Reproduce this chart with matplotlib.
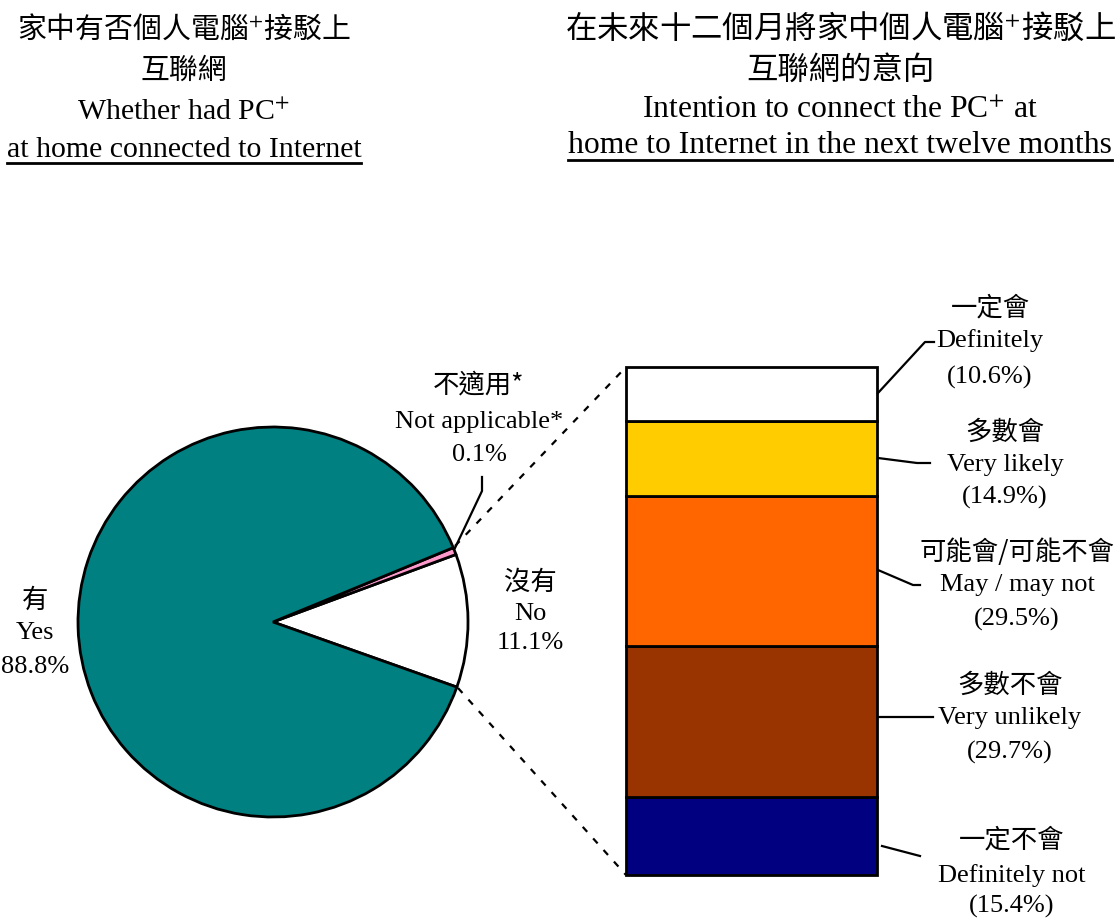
import matplotlib
matplotlib.use("Agg")
import matplotlib.pyplot as plt

plt.rcParams['mathtext.fontset'] = 'stix'

W, H = 1118, 921
CJK = ['Noto Sans CJK TC', 'DejaVu Sans']
SERIF = ['Liberation Serif', 'DejaVu Serif']

# ---- data ----
pie_names_zh = ["有", "不適用*", "沒有"]
pie_names_en = ["Yes", "Not applicable*", "No"]
pie_shares = [88.8, 0.1, 11.1]            # printed values
pie_drawn = [88.8, 0.6, 11.1]             # slice sizes as drawn in the picture
pie_colors = ["#008080", "#FF99CC", "#FFFFFF"]

bar_names_zh = ["一定會", "多數會", "可能會/可能不會", "多數不會", "一定不會"]
bar_names_en = ["Definitely", "Very likely", "May / may not", "Very unlikely", "Definitely not"]
bar_shares = [10.6, 14.9, 29.5, 29.7, 15.4]
bar_colors = ["#FFFFFF", "#FFCC00", "#FF6600", "#993300", "#000080"]


def Y(py):
    return H - py


fig = plt.figure(figsize=(W / 100, H / 100), dpi=100)
ax = fig.add_axes([0, 0, 1, 1])

# ---- pie ----
cx, cy, r = 273, Y(622), 195
ax.pie(pie_drawn[::-1], colors=pie_colors[::-1], startangle=-19.5, counterclock=True,
       center=(cx, cy), radius=r, frame=True,
       wedgeprops=dict(edgecolor="black", linewidth=2))

# ---- stacked bar (top to bottom: Definitely ... Definitely not) ----
bar_left, bar_right = 626, 877
bar_top, bar_bottom = Y(367), Y(875)
scale = (bar_top - bar_bottom) / sum(bar_shares)
bottom = bar_bottom
for val, col in zip(bar_shares[::-1], bar_colors[::-1]):
    ax.bar((bar_left + bar_right) / 2, val * scale, bottom=bottom,
           width=bar_right - bar_left, color=col, edgecolor="black", linewidth=2)
    bottom += val * scale

# dashed connectors
ax.plot([455, bar_left], [Y(546), Y(367)], color="black", lw=1.6, ls=(0, (3, 4)))
ax.plot([458, bar_left], [Y(688), Y(875)], color="black", lw=1.6, ls=(0, (3, 4)))

ax.set_xlim(0, W)
ax.set_ylim(0, H)
ax.set_aspect("equal")
ax.axis("off")


def label3(x, ys, zh, en, pct, zsize=19, esize=19):
    ax.text(x, Y(ys[0]), zh, family=CJK, fontsize=zsize, ha="center", va="center")
    ax.text(x, Y(ys[1]), en, family=SERIF, fontsize=esize, ha="center", va="center")
    ax.text(x, Y(ys[2]), pct, family=SERIF, fontsize=esize, ha="center", va="center")


# pie labels
label3(35, (600, 633, 667), pie_names_zh[0], pie_names_en[0], f"{pie_shares[0]}%")
label3(479, (385, 422, 455), pie_names_zh[1], pie_names_en[1], f"{pie_shares[1]}%")
label3(530, (582, 614, 643), pie_names_zh[2], pie_names_en[2], f"{pie_shares[2]}%")
ax.plot([482, 482, 455], [Y(477), Y(491), Y(548)], color="black", lw=1.6)

# bar labels
bar_label_pos = [(990, (308, 341, 377)), (1005, (432, 465, 497)),
                 (1017, (552, 585, 619)), (1010, (685, 718, 752)),
                 (1012, (840, 876, 906))]
for (x, ys), zh, en, v in zip(bar_label_pos, bar_names_zh, bar_names_en, bar_shares):
    label3(x, ys, zh, en, f"({v}%)")

leaders = [([878, 925, 934], [393, 342, 342]),
           ([878, 917, 930], [458, 463, 463]),
           ([878, 913, 920], [570, 585, 585]),
           ([878, 933], [717, 717]),
           ([882, 920], [846, 856])]
for xs, ys in leaders:
    ax.plot(xs, [Y(v) for v in ys], color="black", lw=1.6)

# ---- titles ----
ax.text(184, Y(30), "家中有否個人電腦$^{+}$接駁上", family=CJK, fontsize=20.8, ha="center", va="center")
ax.text(184, Y(71), "互聯網", family=CJK, fontsize=20.8, ha="center", va="center")
ax.text(184, Y(120), "Whether had PC$^{+}$", family=SERIF, fontsize=21.5, ha="center", va="baseline")
u1 = ax.text(184, Y(157), "at home connected to Internet", family=SERIF, fontsize=21.5,
             ha="center", va="baseline")

ax.text(840, Y(28), "在未來十二個月將家中個人電腦$^{+}$接駁上", family=CJK, fontsize=22.6,
        ha="center", va="center")
ax.text(840, Y(70), "互聯網的意向", family=CJK, fontsize=22.6, ha="center", va="center")
ax.text(840, Y(118), "Intention to connect the PC$^{+}$ at", family=SERIF, fontsize=22.8,
        ha="center", va="baseline")
u2 = ax.text(840, Y(153), "home to Internet in the next twelve months", family=SERIF, fontsize=22.8,
             ha="center", va="baseline")

# underline the last title lines
fig.canvas.draw()
inv = ax.transData.inverted()
for t, uy in ((u1, 163), (u2, 160)):
    bb = t.get_window_extent()
    (x0, _), (x1, _) = inv.transform([(bb.x0, bb.y0), (bb.x1, bb.y0)])
    ax.plot([x0, x1], [Y(uy), Y(uy)], color="black", lw=2)

fig.savefig("out.png", dpi=100)
